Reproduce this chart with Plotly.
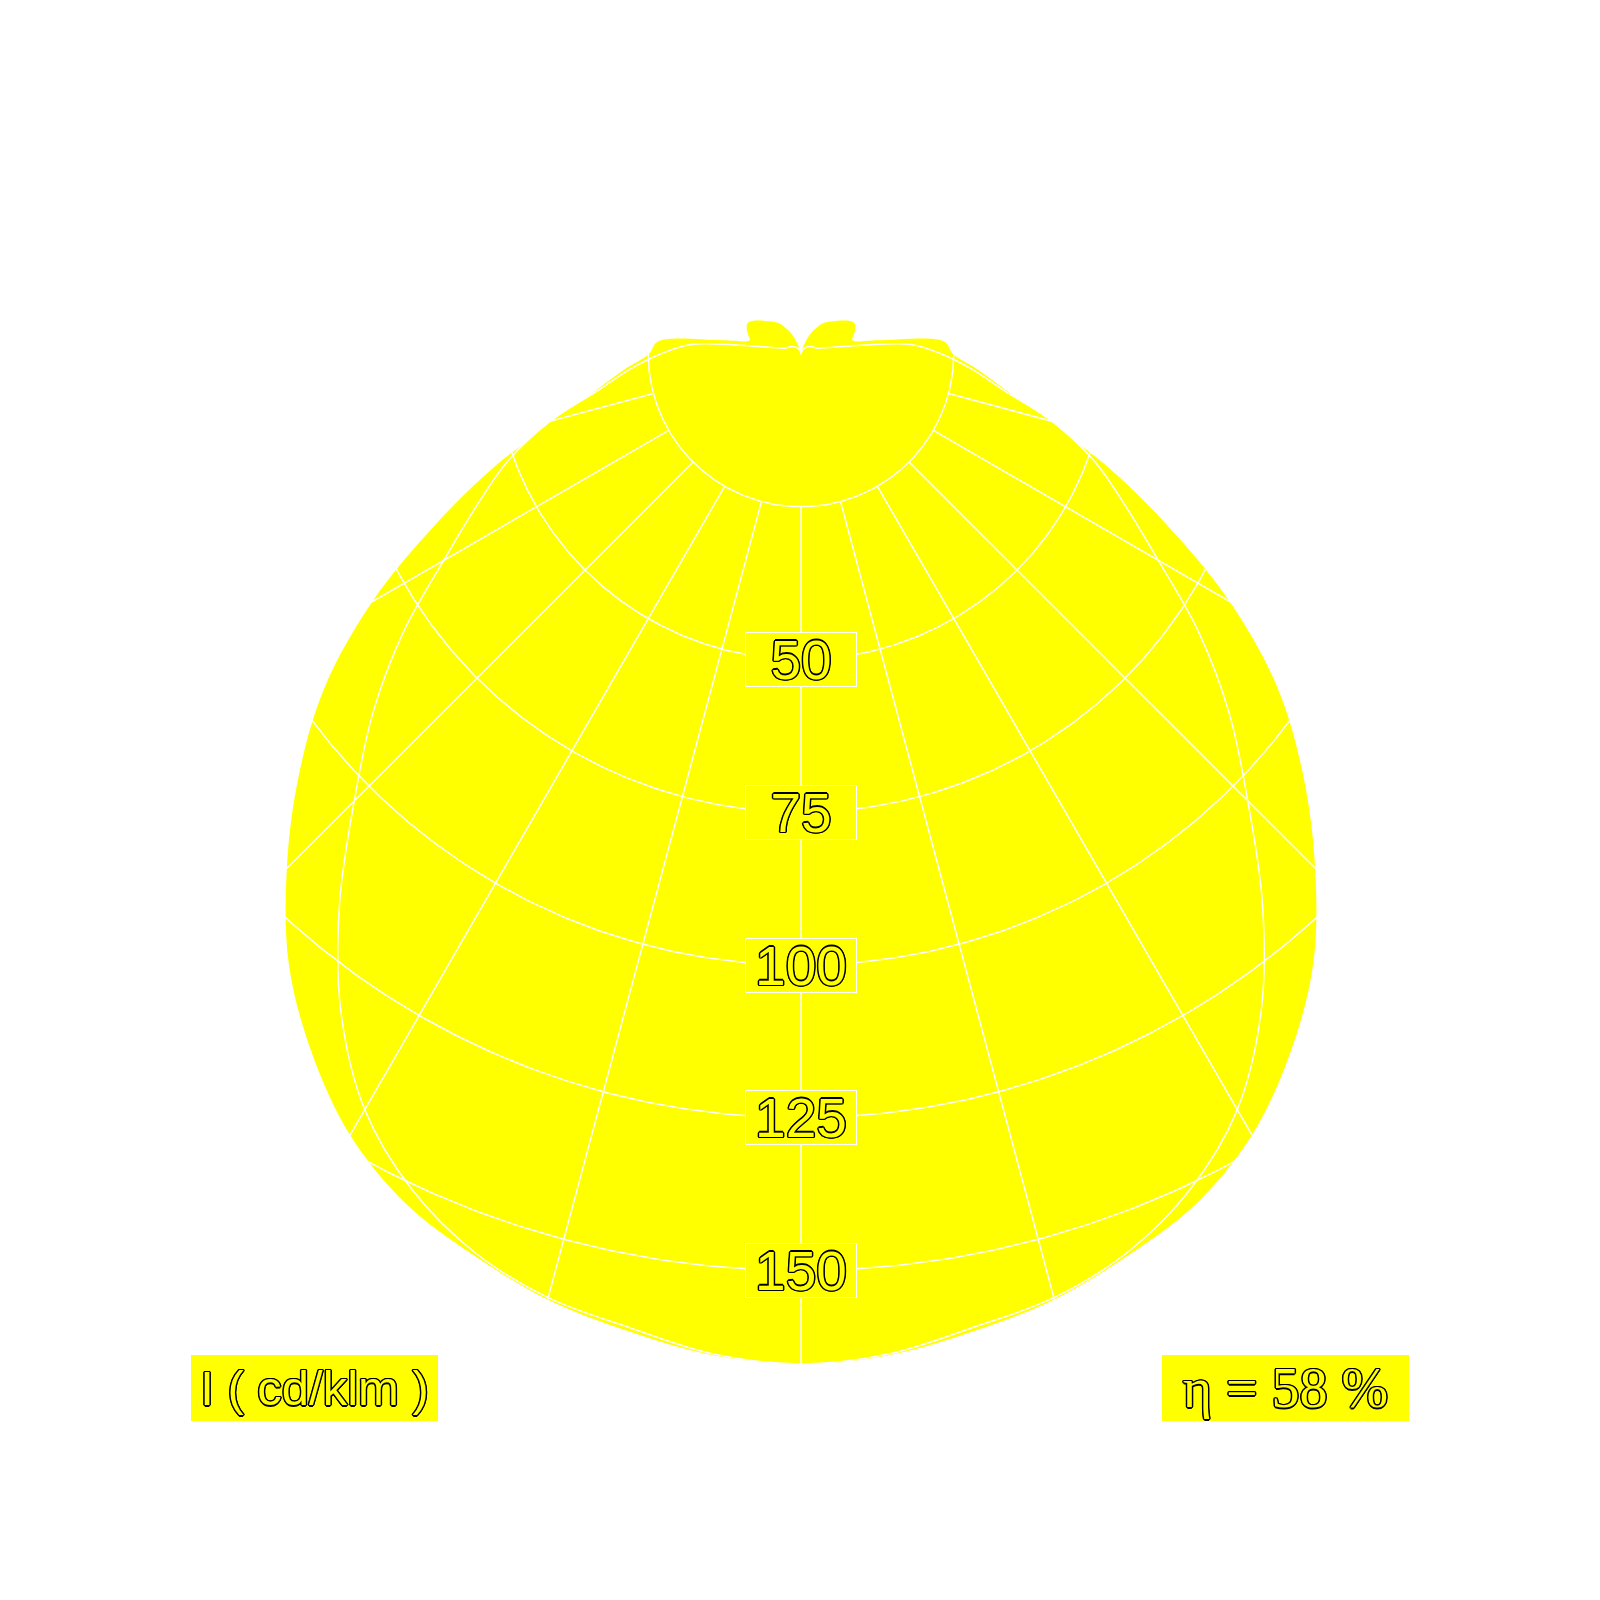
import numpy as np
import plotly.graph_objects as go

YELLOW = "#FFFF00"
OUTLINE = ("1px 0 0 #000, -1px 0 0 #000, 0 1px 0 #000, 0 -1px 0 #000, "
           "1px 1px 0 #000, -1px -1px 0 #000, 1px -1px 0 #000, -1px 1px 0 #000, "
           "1.5px 0 0 #000, -1.5px 0 0 #000, 0 1.5px 0 #000, 0 -1.5px 0 #000")

# gamma angle from nadir (deg), same on both halves of the diagram
gamma = list(range(0, 181, 5))

# intensity in cd/klm, wide plane (outer yellow shape)
plane_a = [165.3, 164.5, 162.4, 160.2, 156.9, 153.3, 147.6, 139.6, 130.4, 119.0,
           107.3, 95.2, 81.0, 66.0, 53.0, 41.2, 34.0, 29.0, 24.9, 23.5,
           13.0, 8.7, 9.2, 9.8, 10.1, 9.5, 8.5, 7.6, 6.9, 6.1,
           4.8, 3.6, 2.0, 0.8, 0.2, 0.0, 0.0]

# intensity in cd/klm, narrow plane (white outline inside)
plane_b = [165.3, 164.3, 161.8, 159.9, 156.4, 150.8, 142.8, 131.3, 117.5, 103.4,
           91.5, 79.5, 67.5, 58.5, 51.0, 42.5, 33.5, 28.0, 23.0, 18.0,
           7.0, 3.9, 2.8, 2.5, 2.3, 2.1, 1.9, 1.7, 1.5, 1.3,
           1.1, 0.9, 0.7, 0.5, 0.3, 0.1, 0.0]

ring_values = [25, 50, 75, 100, 125, 150]
label_values = [50, 75, 100, 125, 150]
spoke_angles = [-75, -60, -45, -30, -15, 0, 15, 30, 45, 60, 75]

unit_text = "I ( cd/klm )"
eta_text = "η = 58 %"

# pixel placement of the pole inside the plot and scale (px per cd/klm)
CX, CY, S = 793, 346, 6.11
W = H = 1600


def closed_curve(values):
    g = np.radians(gamma)
    r = np.asarray(values, dtype=float)
    xs, ys = r * np.sin(g), -r * np.cos(g)
    x = np.concatenate([-xs[::-1], xs[1:]])
    y = np.concatenate([ys[::-1], ys[1:]])
    return x, y


fig = go.Figure()

xa, ya = closed_curve(plane_a)
fig.add_trace(go.Scatter(
    x=xa, y=ya, mode="lines", fill="toself", fillcolor=YELLOW,
    line=dict(color=YELLOW, width=0, shape="spline", smoothing=1.0),
    hoverinfo="skip", showlegend=False,
))

xb, yb = closed_curve(plane_b)
fig.add_trace(go.Scatter(
    x=xb, y=yb, mode="lines", fill="toself", fillcolor=YELLOW,
    line=dict(color="white", width=1.5, shape="spline", smoothing=1.0),
    hoverinfo="skip", showlegend=False,
))

# grid: rings and spokes drawn on top of the fill
t = np.radians(np.linspace(0, 360, 721))
gx, gy = [], []
for rv in ring_values:
    gx += list(rv * np.cos(t)) + [None]
    gy += list(rv * np.sin(t)) + [None]
for a in spoke_angles:
    ar = np.radians(a)
    gx += [25 * np.sin(ar), 175 * np.sin(ar), None]
    gy += [-25 * np.cos(ar), -175 * np.cos(ar), None]
fig.add_trace(go.Scatter(
    x=gx, y=gy, mode="lines", line=dict(color="white", width=1.5),
    hoverinfo="skip", showlegend=False,
))

for v in label_values:
    fig.add_annotation(
        x=0, y=-v, text=str(v), showarrow=False,
        width=110, height=53, bgcolor=YELLOW,
        bordercolor="white", borderwidth=1, borderpad=0,
        font=dict(family="Liberation Sans, Arial", size=55, color=YELLOW, shadow=OUTLINE),
    )

fig.add_annotation(
    x=-79.6, y=-169.3, text=unit_text, showarrow=False,
    width=247, height=66, bgcolor=YELLOW, borderpad=0, borderwidth=0,
    font=dict(family="Liberation Sans, Arial", size=49, color=YELLOW, shadow=OUTLINE),
)
fig.add_annotation(
    x=79.3, y=-169.3, text=eta_text, showarrow=False,
    width=247, height=66, bgcolor=YELLOW, borderpad=0, borderwidth=0,
    font=dict(family="Liberation Serif, serif", size=56, color=YELLOW, shadow=OUTLINE),
)

fig.update_xaxes(range=[-CX / S, (W - CX) / S], visible=False, fixedrange=True)
fig.update_yaxes(range=[(CY - H) / S, CY / S], visible=False, fixedrange=True)
fig.update_layout(
    width=W, height=H, autosize=False,
    margin=dict(l=0, r=0, t=0, b=0),
    plot_bgcolor="white", paper_bgcolor="white",
    showlegend=False,
)

fig.write_html("out.html")
